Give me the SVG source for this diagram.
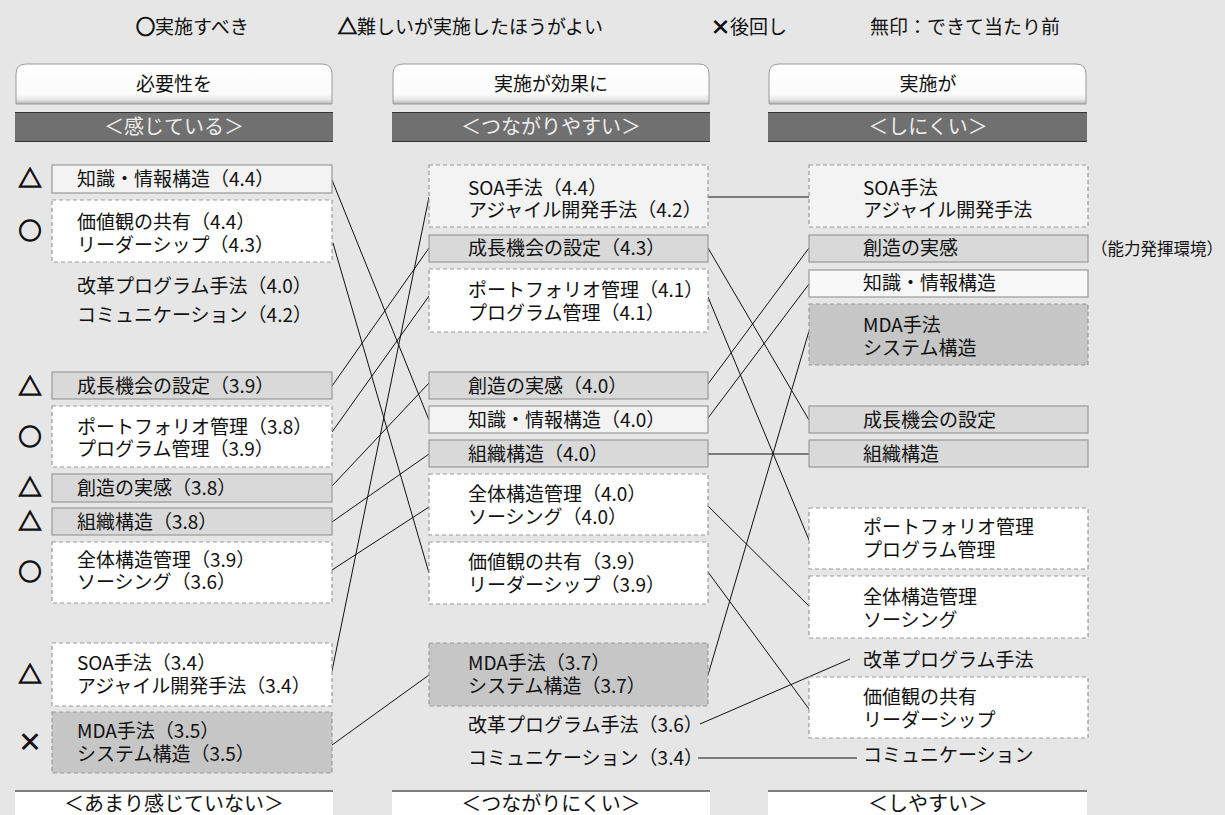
<svg xmlns="http://www.w3.org/2000/svg" width="1225" height="815" viewBox="0 0 1225 815">
<defs>
<linearGradient id="hg" x1="0" y1="0" x2="0" y2="1">
<stop offset="0" stop-color="#ffffff"/>
<stop offset="0.75" stop-color="#fbfbfb"/>
<stop offset="0.9" stop-color="#e6e6e6"/>
<stop offset="1" stop-color="#b0b0b0"/>
</linearGradient>
</defs>
<style>
text{font-family:"Noto Sans CJK JP","Noto Sans",sans-serif;font-size:19px;fill:#111}
.c{text-anchor:middle}
.bar{fill:#707070}
.bart{fill:#ececec;font-size:20px;text-anchor:middle}
.bot{fill:#ffffff}
.bott{font-size:20px;text-anchor:middle}
.s{stroke:#9a9a9a;stroke-width:1.2}
.d{stroke:#9a9a9a;stroke-width:1.2;stroke-dasharray:4 3}
.w{fill:#ffffff}
.l{fill:#f3f3f3}
.l2{fill:#f8f8f8}
.m{fill:#d9d9d9}
.k{fill:#c6c6c6}
.mk{font-size:23px;text-anchor:middle;stroke:#111;stroke-width:1.3}
.sym{stroke:#111;stroke-width:1.2}
#conn line{stroke:#111;stroke-width:1}
</style>
<rect width="1225" height="815" fill="#e6e6e6"/>

<g id="legend">
<text x="136" y="34"><tspan class="sym">○</tspan>実施すべき</text>
<text x="338" y="34"><tspan class="sym">△</tspan>難しいが実施したほうがよい</text>
<text x="711" y="34"><tspan class="sym">×</tspan>後回し</text>
<text x="870" y="34">無印：できて当たり前</text>
</g>

<g id="headers">
<path d="M16 104 V74 Q16 64 26 64 H322 Q332 64 332 74 V104 Z" fill="url(#hg)" stroke="#9a9a9a"/>
<text class="c" x="174" y="91">必要性を</text>
<rect class="bar" x="15" y="112" width="318" height="30"/>
<line x1="15" y1="112.5" x2="333" y2="112.5" stroke="#333"/>
<line x1="15" y1="141.5" x2="333" y2="141.5" stroke="#333"/>
<text class="bart" x="174" y="134">＜感じている＞</text>

<path d="M393 104 V74 Q393 64 403 64 H699 Q709 64 709 74 V104 Z" fill="url(#hg)" stroke="#9a9a9a"/>
<text class="c" x="551" y="91">実施が効果に</text>
<rect class="bar" x="392" y="112" width="318" height="30"/>
<line x1="392" y1="112.5" x2="710" y2="112.5" stroke="#333"/>
<line x1="392" y1="141.5" x2="710" y2="141.5" stroke="#333"/>
<text class="bart" x="551" y="134">＜つながりやすい＞</text>

<path d="M769 104 V74 Q769 64 779 64 H1076 Q1086 64 1086 74 V104 Z" fill="url(#hg)" stroke="#9a9a9a"/>
<text class="c" x="928" y="91">実施が</text>
<rect class="bar" x="768" y="112" width="319" height="30"/>
<line x1="768" y1="112.5" x2="1087" y2="112.5" stroke="#333"/>
<line x1="768" y1="141.5" x2="1087" y2="141.5" stroke="#333"/>
<text class="bart" x="928" y="134">＜しにくい＞</text>
</g>

<g id="footers">
<rect class="bot" x="15" y="792" width="318" height="30"/>
<line x1="15" y1="791" x2="333" y2="791" stroke="#808080" stroke-width="2"/>
<text class="bott" x="174" y="811">＜あまり感じていない＞</text>
<rect class="bot" x="392" y="792" width="318" height="30"/>
<line x1="392" y1="791" x2="710" y2="791" stroke="#808080" stroke-width="2"/>
<text class="bott" x="551" y="811">＜つながりにくい＞</text>
<rect class="bot" x="768" y="792" width="319" height="30"/>
<line x1="768" y1="791" x2="1087" y2="791" stroke="#808080" stroke-width="2"/>
<text class="bott" x="928" y="811">＜しやすい＞</text>
</g>

<g id="marks">
<text class="mk" x="30" y="187">△</text>
<text class="mk" x="30" y="239">○</text>
<text class="mk" x="30" y="395">△</text>
<text class="mk" x="30" y="445">○</text>
<text class="mk" x="30" y="496">△</text>
<text class="mk" x="30" y="530">△</text>
<text class="mk" x="30" y="580">○</text>
<text class="mk" x="30" y="683">△</text>
<text class="mk" x="30" y="750">×</text>
</g>

<g id="conn">
<line x1="332" y1="180" x2="429" y2="420"/>
<line x1="333" y1="243" x2="429" y2="573"/>
<line x1="332" y1="386" x2="429" y2="248"/>
<line x1="332" y1="432" x2="429" y2="296"/>
<line x1="332" y1="486" x2="429" y2="383"/>
<line x1="332" y1="522" x2="429" y2="454"/>
<line x1="332" y1="570" x2="429" y2="507"/>
<line x1="332" y1="671" x2="429" y2="197"/>
<line x1="332" y1="745" x2="429" y2="675"/>
<line x1="708" y1="197" x2="809" y2="197"/>
<line x1="708" y1="248" x2="809" y2="420"/>
<line x1="708" y1="297" x2="809" y2="540"/>
<line x1="708" y1="384" x2="809" y2="248"/>
<line x1="708" y1="418" x2="809" y2="284"/>
<line x1="708" y1="454" x2="809" y2="454"/>
<line x1="708" y1="506" x2="809" y2="606"/>
<line x1="708" y1="572" x2="809" y2="709"/>
<line x1="708" y1="675" x2="809" y2="331"/>
<line x1="700" y1="724" x2="850" y2="659"/>
<line x1="698" y1="758" x2="857" y2="758"/>
</g>

<g id="L1"><rect class="s l" x="52" y="165" width="280" height="28"/><text x="77" y="186">知識・情報構造（4.4）</text></g>
<g id="L2"><rect class="d w" x="52" y="200" width="280" height="62"/><text x="77" y="229">価値観の共有（4.4）</text><text x="77" y="252">リーダーシップ（4.3）</text></g>
<g id="L3"><text x="77" y="293">改革プログラム手法（4.0）</text></g>
<g id="L4"><text x="77" y="322">コミュニケーション（4.2）</text></g>
<g id="L5"><rect class="s m" x="52" y="372" width="280" height="27"/><text x="77" y="393">成長機会の設定（3.9）</text></g>
<g id="L6"><rect class="d w" x="52" y="406" width="280" height="61"/><text x="77" y="434">ポートフォリオ管理（3.8）</text><text x="77" y="456">プログラム管理（3.9）</text></g>
<g id="L7"><rect class="s m" x="52" y="474" width="280" height="28"/><text x="77" y="495">創造の実感（3.8）</text></g>
<g id="L8"><rect class="s m" x="52" y="508" width="280" height="27"/><text x="77" y="529">組織構造（3.8）</text></g>
<g id="L9"><rect class="d w" x="52" y="542" width="280" height="61"/><text x="77" y="567">全体構造管理（3.9）</text><text x="77" y="589">ソーシング（3.6）</text></g>
<g id="L10"><rect class="d w" x="52" y="643" width="280" height="63"/><text x="77" y="670">SOA手法（3.4）</text><text x="77" y="693">アジャイル開発手法（3.4）</text></g>
<g id="L11"><rect class="d k" x="52" y="712" width="280" height="61"/><text x="77" y="738">MDA手法（3.5）</text><text x="77" y="761">システム構造（3.5）</text></g>

<g id="M1"><rect class="d l" x="429" y="165" width="279" height="62"/><text x="468" y="195">SOA手法（4.4）</text><text x="468" y="217">アジャイル開発手法（4.2）</text></g>
<g id="M2"><rect class="s m" x="429" y="235" width="279" height="27"/><text x="468" y="255">成長機会の設定（4.3）</text></g>
<g id="M3"><rect class="d w" x="429" y="269" width="279" height="63"/><text x="468" y="297">ポートフォリオ管理（4.1）</text><text x="468" y="320">プログラム管理（4.1）</text></g>
<g id="M4"><rect class="s m" x="429" y="372" width="279" height="27"/><text x="468" y="393">創造の実感（4.0）</text></g>
<g id="M5"><rect class="s l" x="429" y="406" width="279" height="27"/><text x="468" y="427">知識・情報構造（4.0）</text></g>
<g id="M6"><rect class="s m" x="429" y="440" width="279" height="27"/><text x="468" y="461">組織構造（4.0）</text></g>
<g id="M7"><rect class="d w" x="429" y="474" width="279" height="61"/><text x="468" y="501">全体構造管理（4.0）</text><text x="468" y="524">ソーシング（4.0）</text></g>
<g id="M8"><rect class="d w" x="429" y="542" width="279" height="62"/><text x="468" y="569">価値観の共有（3.9）</text><text x="468" y="592">リーダーシップ（3.9）</text></g>
<g id="M9"><rect class="d k" x="429" y="643" width="279" height="63"/><text x="468" y="670">MDA手法（3.7）</text><text x="468" y="693">システム構造（3.7）</text></g>
<g id="M10"><text x="468" y="732">改革プログラム手法（3.6）</text></g>
<g id="M11"><text x="468" y="765">コミュニケーション（3.4）</text></g>

<g id="R1"><rect class="d l" x="809" y="165" width="279" height="62"/><text x="863" y="195">SOA手法</text><text x="863" y="217">アジャイル開発手法</text></g>
<g id="R2"><rect class="s m" x="809" y="235" width="279" height="27"/><text x="863" y="255">創造の実感</text><text x="1091" y="255" style="font-size:16.5px">（能力発揮環境）</text></g>
<g id="R3"><rect class="s l2" x="809" y="270" width="279" height="27"/><text x="863" y="290">知識・情報構造</text></g>
<g id="R4"><rect class="d k" x="809" y="304" width="279" height="61"/><text x="863" y="332">MDA手法</text><text x="863" y="355">システム構造</text></g>
<g id="R5"><rect class="s m" x="809" y="406" width="279" height="27"/><text x="863" y="427">成長機会の設定</text></g>
<g id="R6"><rect class="s m" x="809" y="440" width="279" height="27"/><text x="863" y="461">組織構造</text></g>
<g id="R7"><rect class="d w" x="809" y="508" width="279" height="61"/><text x="863" y="534">ポートフォリオ管理</text><text x="863" y="557">プログラム管理</text></g>
<g id="R8"><rect class="d w" x="809" y="576" width="279" height="62"/><text x="863" y="604">全体構造管理</text><text x="863" y="627">ソーシング</text></g>
<g id="R9"><text x="863" y="667">改革プログラム手法</text></g>
<g id="R10"><rect class="d w" x="809" y="677" width="279" height="61"/><text x="863" y="704">価値観の共有</text><text x="863" y="727">リーダーシップ</text></g>
<g id="R11"><text x="863" y="762">コミュニケーション</text></g>
</svg>
